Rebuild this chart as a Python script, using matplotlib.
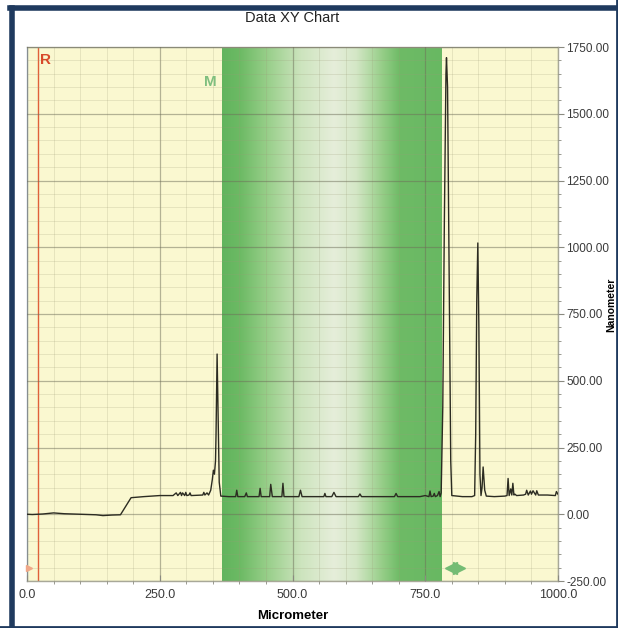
import numpy as np
import matplotlib
matplotlib.use("Agg")
import matplotlib.pyplot as plt
from matplotlib.colors import LinearSegmentedColormap
from matplotlib.ticker import MultipleLocator, FormatStrFormatter

# profile: position (micrometer) and height (nanometer)
pos_um = [0, 10, 30, 50, 70, 100, 130, 143, 160, 176, 186, 196, 220, 250,
          275, 281, 284, 289, 291, 293, 297, 299, 301, 305, 307, 309, 320,
          331, 333, 335, 339, 342, 346, 349, 351, 353, 355, 356, 358, 360,
          362, 365, 380, 393, 395, 397, 410, 413, 415, 430, 437, 439, 441,
          450, 457, 459, 462, 475, 480, 482, 484, 500, 512, 515, 518, 540,
          559, 561, 563, 574, 578, 582, 600, 624, 627, 630, 660, 692, 695,
          698, 720, 740, 750, 757, 759, 761, 765, 767, 769, 773, 776, 778,
          780, 783, 786, 789, 790, 792, 795, 798, 800, 820, 838, 843, 845,
          847, 849, 851, 853, 855, 857, 859, 862, 865, 880, 900, 904, 906,
          908, 911, 913, 915, 917, 919, 922, 935, 939, 941, 944, 948, 950,
          953, 958, 960, 963, 980, 995, 997, 1000]
height_nm = [0, -1, 1, 5, 2, 0, -2, -5, -3, -2, 30, 62, 66, 70,
             70, 80, 70, 82, 70, 80, 70, 82, 70, 72, 80, 70, 71,
             72, 82, 72, 80, 72, 90, 130, 165, 150, 200, 300, 600, 350,
             120, 68, 66, 66, 90, 66, 66, 80, 66, 66, 66, 97, 66,
             66, 66, 112, 66, 66, 66, 116, 66, 66, 66, 90, 66, 66,
             66, 78, 66, 66, 82, 66, 66, 66, 76, 66, 66, 66, 78,
             66, 66, 66, 70, 66, 87, 66, 68, 78, 66, 70, 85, 66,
             80, 400, 1100, 1650, 1710, 1600, 900, 200, 70, 66, 66, 70, 300,
             800, 1016, 700, 150, 70, 100, 177, 90, 68, 66, 68, 70, 134,
             70, 95, 72, 116, 72, 75, 70, 72, 75, 90, 72, 87, 75,
             88, 72, 88, 72, 72, 70, 85, 75]

title = "Data XY Chart"
x_label = "Micrometer"
y_label = "Nanometer"
x_lim = (0, 1000)
y_lim = (-250, 1750)
band_um = (368, 781)
ref_um = 20

# band colour profile (position in band, rgb)
band_stops = [(0.00, (98, 180, 94)), (0.08, (108, 186, 100)),
              (0.20, (150, 206, 136)), (0.36, (205, 228, 190)),
              (0.51, (230, 238, 218)), (0.61, (212, 231, 198)),
              (0.73, (150, 206, 136)), (0.81, (110, 187, 102)),
              (1.00, (104, 184, 98))]

fig = plt.figure(figsize=(6.18, 6.28), dpi=100)
W, H = 618, 628
plt.rcParams['font.family'] = ['Liberation Sans Narrow', 'Liberation Sans', 'DejaVu Sans']

ax = fig.add_axes([27 / W, 1 - 581 / H, (558 - 27) / W, (581 - 47) / H])
ax.set_facecolor('#faf8d0')

# green marker band with a horizontal gradient
cmap = LinearSegmentedColormap.from_list(
    'band', [(p, tuple(c / 255 for c in rgb)) for p, rgb in band_stops])
grad = np.linspace(0, 1, 256).reshape(1, -1)
ax.imshow(grad, cmap=cmap, aspect='auto', zorder=0.5,
          extent=[band_um[0], band_um[1], y_lim[0], y_lim[1]])
ax.set_xlim(*x_lim)
ax.set_ylim(*y_lim)

# grid
ax.xaxis.set_major_locator(MultipleLocator(250))
ax.xaxis.set_minor_locator(MultipleLocator(50))
ax.yaxis.set_major_locator(MultipleLocator(250))
ax.yaxis.set_minor_locator(MultipleLocator(50))
ax.grid(which='major', color='#6e6e5a', alpha=0.5, lw=0.9, zorder=1)
ax.grid(which='minor', color='#9c9a78', alpha=0.25, lw=0.6, zorder=1)
ax.set_axisbelow(False)

ax.plot(pos_um, height_nm, color='#2c2c22', lw=1.0, zorder=3)

# reference cursor and markers
ax.axvline(ref_um, color='#e0603a', lw=1.0, zorder=2.5)
ax.text(34, 1700, 'R', color='#d84a2a', fontsize=11, fontweight='bold',
        ha='center', va='center', family='Liberation Sans', zorder=4)
ax.text(345, 1620, 'M', color='#7fbf7f', fontsize=11, fontweight='bold',
        ha='center', va='center', family='Liberation Sans', zorder=4)
ax.plot([4], [-203], marker='>', color='#f0a888', ms=5, zorder=4,
        clip_on=False)
ax.plot([798], [-203], marker='<', color='#74bc74', ms=9, zorder=4)
ax.plot([814], [-203], marker='>', color='#74bc74', ms=9, zorder=4)

# axes styling
ax.yaxis.tick_right()
ax.xaxis.set_major_formatter(FormatStrFormatter('%.1f'))
ax.yaxis.set_major_formatter(FormatStrFormatter('%.2f'))
ax.tick_params(which='both', colors='#8a8a80', labelcolor='#3a3a3a',
               labelsize=9)
ax.tick_params(axis='y', labelsize=8.5, pad=2)
ax.tick_params(which='major', length=4)
ax.tick_params(which='minor', length=2)
ax.tick_params(axis='x', direction='in', pad=6)
for side in ['top', 'right', 'bottom', 'left']:
    ax.spines[side].set_color('#a8a898')
    ax.spines[side].set_linewidth(1.0)
ax.spines['left'].set_color('#9fb0c8')

ax.set_xlabel(x_label, fontsize=9.5, fontweight='bold', labelpad=6)
ax.set_title(title, fontsize=10.5, color='#222222', pad=18)
fig.text(611 / W, 1 - 305 / H, y_label, rotation=90, fontsize=7.5,
         fontweight='bold', ha='center', va='center')

# dark frame around the whole chart
frame_c = '#1f3a5e'
fig.add_artist(plt.Line2D([12 / W, 12 / W], [0, 1 - 8 / H], color=frame_c,
                          lw=4, transform=fig.transFigure))
fig.add_artist(plt.Line2D([10 / W, 1], [1 - 8 / H, 1 - 8 / H], color=frame_c,
                          lw=4, transform=fig.transFigure))
fig.add_artist(plt.Line2D([616.5 / W, 616.5 / W], [0, 1], color=frame_c,
                          lw=2, transform=fig.transFigure))
fig.add_artist(plt.Line2D([0, 1], [1.5 / H, 1.5 / H], color=frame_c,
                          lw=2, transform=fig.transFigure))

fig.savefig('out.png', dpi=100, facecolor='white')
